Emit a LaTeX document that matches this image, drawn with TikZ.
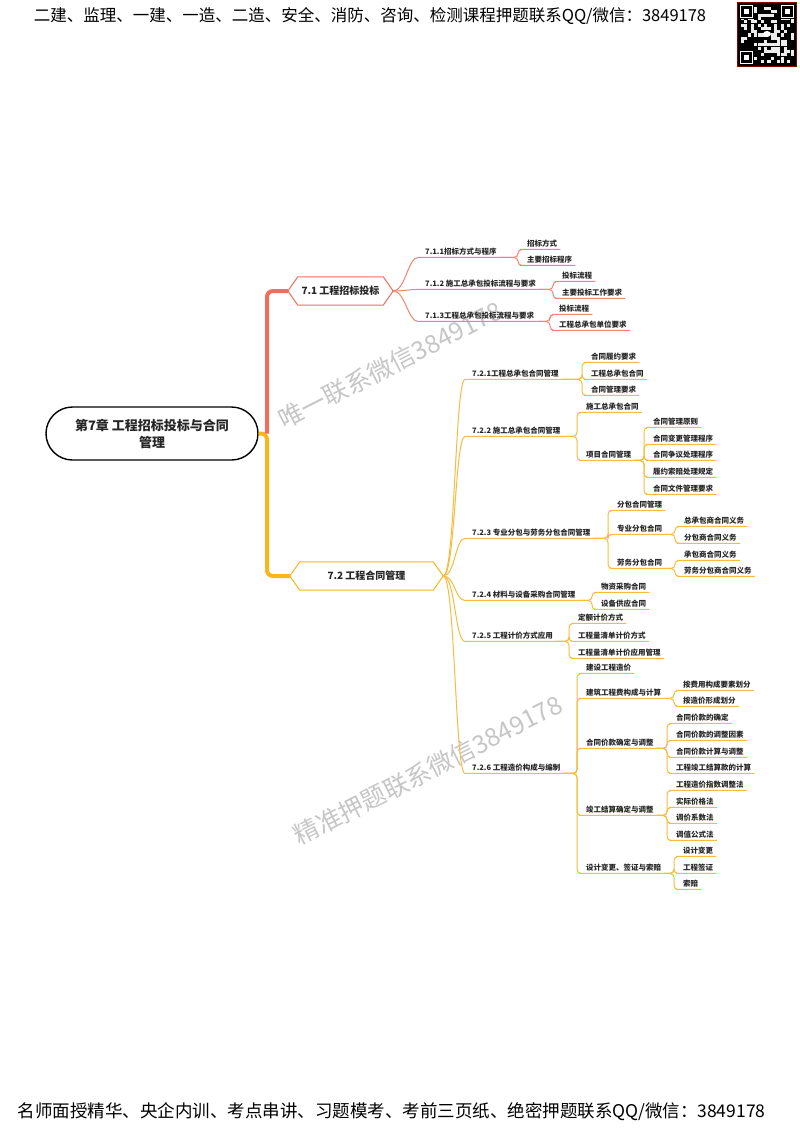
\documentclass[tikz,border=0pt]{standalone}
\usepackage{fontspec}
\setmainfont{Noto Sans CJK SC}
\usetikzlibrary{shapes.misc,calc}
\definecolor{rthick}{HTML}{F26D5B}
\definecolor{rthin}{HTML}{EE8673}
\definecolor{ythick}{HTML}{F7B61E}
\definecolor{ythin}{HTML}{F4BD3F}
\newcommand{\mmlink}[3]{%
  \path (#3.south west) ++(-6,0) coordinate (mmb);
  \draw[#1] (#2.south east) -- (mmb |- #2.south east) |- (#3.south west) -- (#3.south east);}
\newcommand{\mmhub}[3]{%
  \draw[#1] (#2.east) .. controls +(12,0) and +(-14,0) .. (#3.south west) -- (#3.south east);}
\newcommand{\mmhex}[2]{%
  \draw[#2,line width=1pt,line join=round] ([xshift=10pt]#1.north west) -- ([xshift=-10pt]#1.north east) -- (#1.east) -- ([xshift=-10pt]#1.south east) -- ([xshift=10pt]#1.south west) -- (#1.west) -- cycle;}
\begin{document}
\begin{tikzpicture}[x=1pt,y=-1pt,
  lab/.style={anchor=west,font=\bfseries\fontsize{7.5}{8}\selectfont,inner xsep=3pt,inner ysep=2pt,text height=5.5pt,text depth=1pt,text=black!85},
  rl/.style={draw=rthin,line width=1pt,rounded corners=4pt},
  yl/.style={draw=ythin,line width=1pt,rounded corners=4pt},
  hexn/.style={minimum width=#1,minimum height=28pt,inner sep=0pt,font=\bfseries\fontsize{10}{12}\selectfont,text=black!85},
  wm/.style={rotate=27,text=gray!45,font=\fontsize{25}{25}\selectfont},
  band/.style={font=\fontsize{16.5}{18}\selectfont,inner sep=0pt}]
\useasboundingbox (0,0) rectangle (800,1130);
\fill[white] (0,0) rectangle (800,1130);

% header / footer
\node[band] (hdr) at (370,16) {二建、监理、一建、一造、二造、安全、消防、咨询、检测课程押题联系QQ/微信：3849178};
\node[band,font=\fontsize{17.5}{19}\selectfont] (ftr) at (391.5,1112) {名师面授精华、央企内训、考点串讲、习题模考、考前三页纸、绝密押题联系QQ/微信：3849178};

% QR code
\fill[black] (737,2) rectangle (797,67);
\pgfmathsetseed{11}
\foreach \i in {0,...,15}{\foreach \j in {0,...,16}{%
  \pgfmathtruncatemacro\rr{rnd>0.55?1:0}%
  \ifnum\rr=1 \fill[white!85!gray] (741+3.3*\i,7+3.3*\j) rectangle ++(3.1,3.1);\fi}}
\foreach \px/\py in {740/5,781/5,740/51}{%
  \fill[black] (\px-1,\py-1) rectangle ++(15,15);
  \draw[white,line width=1.3pt] (\px+0.5,\py+0.5) rectangle ++(12,12);
  \fill[white] (\px+4,\py+4) rectangle ++(5,5);}
\fill[white] (767,34) ellipse (4 and 3);
\draw[red!55!black,line width=1pt] (737.5,2.5) rectangle (796.5,66.5);

% watermarks
\node[wm] (wm1) at (390,365) {唯一联系微信3849178};
\node[wm] (wm2) at (428,770) {精准押题联系微信3849178};

% root and main branches
\node[rounded rectangle,draw,line width=1.4pt,minimum width=216pt,minimum height=53pt,align=center,inner sep=2pt,font=\bfseries\fontsize{13}{17}\selectfont,text=black!85] (root) at (152,433.5) {第7章 工程招标投标与合同\\管理};
\node[hexn=105] (h71) at (340.5,291) {7.1 工程招标投标};
\node[hexn=153] (h72) at (366.5,576) {7.2 工程合同管理};
\mmhex{h71}{rthick}
\mmhex{h72}{ythick}
\coordinate (sp) at (267,433.5);
\draw[ythick,line width=4pt,rounded corners=6pt] (root.east) -- (sp) |- (h72.west);
\draw[rthick,line width=4pt,rounded corners=6pt] (sp) |- (h71.west);

% 7.1 subtree
\node[lab] (n711) at (422,252) {7.1.1招标方式与程序};
\node[lab] (n7111) at (524,244) {招标方式};
\node[lab] (n7112) at (524,260) {主要招标程序};
\node[lab] (n712) at (422,284) {7.1.2 施工总承包投标流程与要求};
\node[lab] (n7121) at (559,276) {投标流程};
\node[lab] (n7122) at (559,293) {主要投标工作要求};
\node[lab] (n713) at (422,316) {7.1.3工程总承包投标流程与要求};
\node[lab] (n7131) at (556,309) {投标流程};
\node[lab] (n7132) at (556,325) {工程总承包单位要求};
\foreach \c in {n711,n712,n713}{\mmhub{rl}{h71}{\c}}
\mmlink{rl}{n711}{n7111}\mmlink{rl}{n711}{n7112}
\mmlink{rl}{n712}{n7121}\mmlink{rl}{n712}{n7122}
\mmlink{rl}{n713}{n7131}\mmlink{rl}{n713}{n7132}

% 7.2 subtree
\node[lab] (n721) at (469,374) {7.2.1工程总承包合同管理};
\node[lab] (a1) at (588,357) {合同履约要求};
\node[lab] (a2) at (588,374) {工程总承包合同};
\node[lab] (a3) at (588,390) {合同管理要求};
\node[lab] (n722) at (469,431) {7.2.2 施工总承包合同管理};
\node[lab] (b1) at (583,407) {施工总承包合同};
\node[lab] (b2) at (583,455) {项目合同管理};
\node[lab] (b21) at (650,422) {合同管理原则};
\node[lab] (b22) at (650,439) {合同变更管理程序};
\node[lab] (b23) at (650,455) {合同争议处理程序};
\node[lab] (b24) at (650,472) {履约索赔处理规定};
\node[lab] (b25) at (650,489) {合同文件管理要求};
\node[lab] (n723) at (469,533) {7.2.3 专业分包与劳务分包合同管理};
\node[lab] (c1) at (614,505) {分包合同管理};
\node[lab] (c2) at (614,529) {专业分包合同};
\node[lab] (c21) at (681,521) {总承包商合同义务};
\node[lab] (c22) at (681,538) {分包商合同义务};
\node[lab] (c3) at (614,563) {劳务分包合同};
\node[lab] (c31) at (681,555) {承包商合同义务};
\node[lab] (c32) at (681,571) {劳务分包商合同义务};
\node[lab] (n724) at (469,595) {7.2.4 材料与设备采购合同管理};
\node[lab] (d1) at (598,587) {物资采购合同};
\node[lab] (d2) at (598,604) {设备供应合同};
\node[lab] (n725) at (469,636) {7.2.5 工程计价方式应用};
\node[lab] (e1) at (575,618) {定额计价方式};
\node[lab] (e2) at (575,636) {工程量清单计价方式};
\node[lab] (e3) at (575,653) {工程量清单计价应用管理};
\node[lab] (n726) at (469,768) {7.2.6 工程造价构成与编制};
\node[lab] (f1) at (583,668) {建设工程造价};
\node[lab] (f2) at (583,693) {建筑工程费构成与计算};
\node[lab] (f21) at (680,685) {按费用构成要素划分};
\node[lab] (f22) at (680,701) {按造价形成划分};
\node[lab] (f3) at (583,743) {合同价款确定与调整};
\node[lab] (f31) at (673,718) {合同价款的确定};
\node[lab] (f32) at (673,735) {合同价款的调整因素};
\node[lab] (f33) at (673,752) {合同价款计算与调整};
\node[lab] (f34) at (673,768) {工程竣工结算款的计算};
\node[lab] (f4) at (583,810) {竣工结算确定与调整};
\node[lab] (f41) at (673,785) {工程造价指数调整法};
\node[lab] (f42) at (673,802) {实际价格法};
\node[lab] (f43) at (673,818) {调价系数法};
\node[lab] (f44) at (673,835) {调值公式法};
\node[lab] (f5) at (583,868) {设计变更、签证与索赔};
\node[lab] (f51) at (680,851) {设计变更};
\node[lab] (f52) at (680,868) {工程签证};
\node[lab] (f53) at (680,884) {索赔};

\foreach \c in {n721,n722,n723,n724,n725,n726}{\mmhub{yl}{h72}{\c}}
\foreach \c in {a1,a2,a3}{\mmlink{yl}{n721}{\c}}
\foreach \c in {b1,b2}{\mmlink{yl}{n722}{\c}}
\foreach \c in {b21,b22,b23,b24,b25}{\mmlink{yl}{b2}{\c}}
\foreach \c in {c1,c2,c3}{\mmlink{yl}{n723}{\c}}
\foreach \c in {c21,c22}{\mmlink{yl}{c2}{\c}}
\foreach \c in {c31,c32}{\mmlink{yl}{c3}{\c}}
\foreach \c in {d1,d2}{\mmlink{yl}{n724}{\c}}
\foreach \c in {e1,e2,e3}{\mmlink{yl}{n725}{\c}}
\foreach \c in {f1,f2,f3,f4,f5}{\mmlink{yl}{n726}{\c}}
\foreach \c in {f21,f22}{\mmlink{yl}{f2}{\c}}
\foreach \c in {f31,f32,f33,f34}{\mmlink{yl}{f3}{\c}}
\foreach \c in {f41,f42,f43,f44}{\mmlink{yl}{f4}{\c}}
\foreach \c in {f51,f52,f53}{\mmlink{yl}{f5}{\c}}
\end{tikzpicture}
\end{document}
